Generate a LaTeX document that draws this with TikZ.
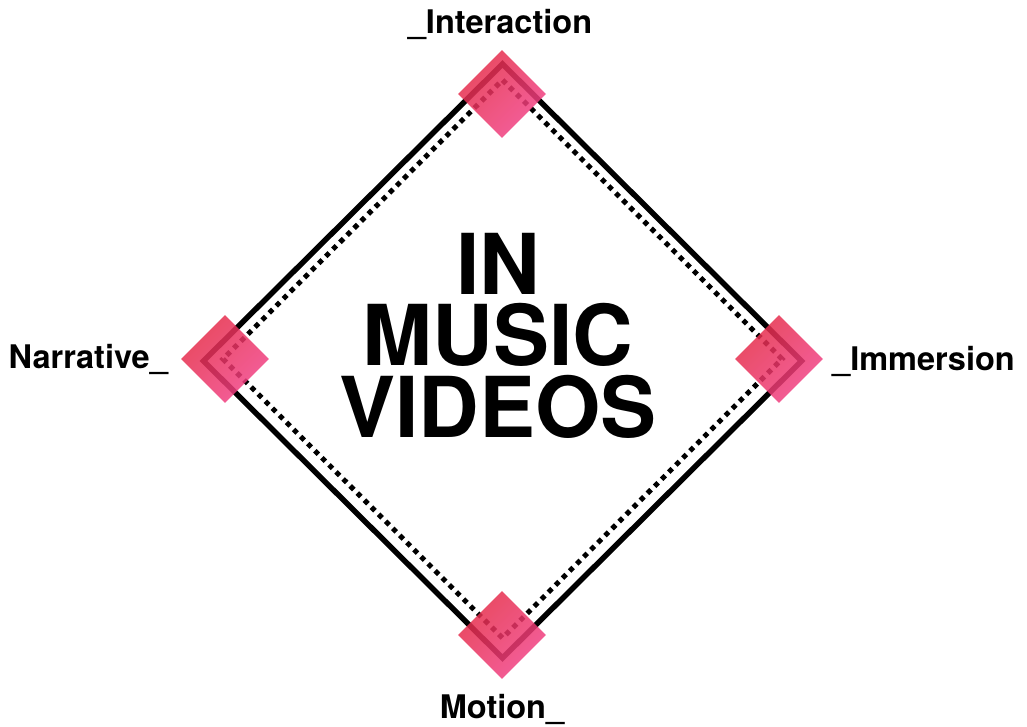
\documentclass[tikz,border=0pt]{standalone}
\usepackage{fontspec}
\setmainfont{TeX Gyre Heros}
\usetikzlibrary{shapes.geometric}
\definecolor{pinkred}{HTML}{E42A44}
\definecolor{pinkpink}{HTML}{F2428A}
\tikzset{
  solidline/.style={line width=5.5pt, line join=miter},
  dotline/.style={line width=5pt, dash pattern=on 5pt off 5pt},
  marker/.style={diamond, aspect=1, inner sep=0pt, minimum width=88pt, minimum height=88pt,
     shading=axis, top color=pinkred, bottom color=pinkpink, shading angle=45, fill opacity=0.85},
  lab/.style={font=\bfseries\fontsize{32.5}{32.5}\selectfont, inner sep=0pt},
  big/.style={font=\bfseries\fontsize{84}{84}\selectfont, inner sep=0pt, anchor=base,
     text height=61pt, text depth=1pt}
}
\begin{document}
\begin{tikzpicture}[x=1pt,y=-1pt]
\useasboundingbox (0,0) rectangle (1027,726);
% solid diamond vertices
\coordinate (st) at (502.5,64);
\coordinate (sr) at (801.5,361);
\coordinate (sb) at (502.5,658);
\coordinate (sl) at (203.5,361);
% dotted diamond vertices
\coordinate (dt) at (502.5,80);
\coordinate (dr) at (782,359);
\coordinate (db) at (502.5,638);
\coordinate (dl) at (223,359);
\draw[solidline] (st) -- (sr) -- (sb) -- (sl) -- cycle;
\draw[dotline] (dt) -- (dr) -- (db) -- (dl) -- cycle;
% markers
\node[marker] (mt) at (502,94) {};
\node[marker] (ml) at (225,359) {};
\node[marker] (mr) at (779,359) {};
\node[marker] (mb) at (502,635) {};
% labels
\node[lab, anchor=base] (lt) at (500,33) {\_Interaction};
\node[lab, anchor=base east] (ll) at (168,368) {Narrative\_};
\node[lab, anchor=base west] (lr) at (832,370) {\_Immersion};
\node[lab, anchor=base] (lb) at (502,718) {Motion\_};
% centre text
\node[big] (t1) at (498,294) {IN};
\node[big] (t2) at (498,365) {MUSIC};
\node[big] (t3) at (498,437) {VIDEOS};
\end{tikzpicture}
\end{document}
